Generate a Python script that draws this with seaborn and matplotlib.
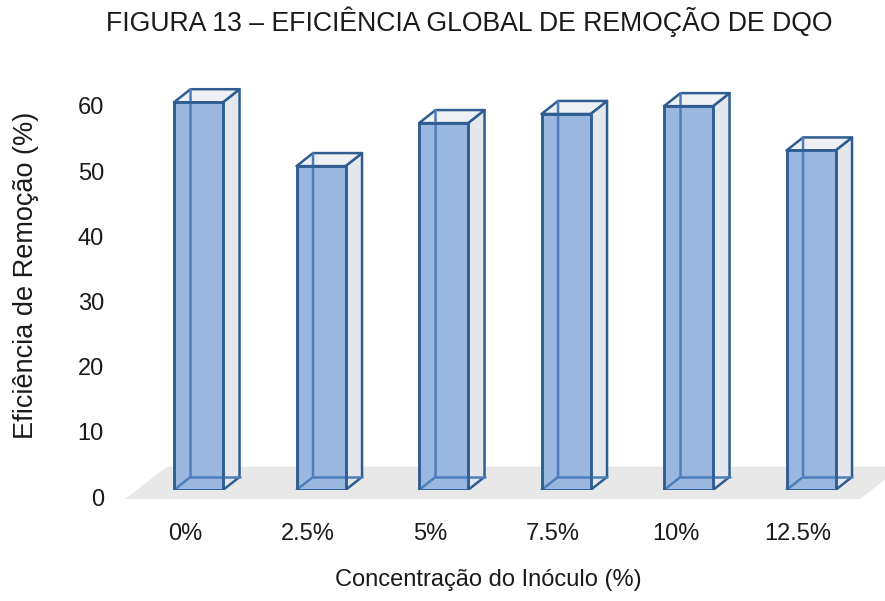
import matplotlib
matplotlib.use("Agg")
import matplotlib.pyplot as plt
import matplotlib.transforms as mtransforms
from matplotlib.patches import Polygon
import pandas as pd
import seaborn as sns

# --- dados ---
concentracoes = ["0%", "2.5%", "5%", "7.5%", "10%", "12.5%"]
eficiencia = [59.5, 49.7, 56.3, 57.7, 58.9, 52.1]
yticks = [0, 10, 20, 30, 40, 50, 60]

df = pd.DataFrame({"Concentração": concentracoes, "Eficiência": eficiencia})

sns.set_theme(style="white")
plt.rcParams["font.family"] = ["Liberation Sans", "DejaVu Sans"]

AZUL = "#9AB8DF"
BORDA = "#2F5D91"
LINHA_INT = "#4D7EBB"
LADO = "#E4E7EC"
TOPO = "#EEF0F4"
PISO = "#E8E8E8"

fig = plt.figure(figsize=(8.85, 6.01), dpi=100)
ax = fig.add_axes([137.25 / 885, 111 / 601, 735 / 885, 423.6 / 601])
ax.patch.set_alpha(0)

sns.barplot(data=df, x="Concentração", y="Eficiência", ax=ax, width=0.4,
            color=AZUL, saturation=1, edgecolor=BORDA, linewidth=1.8, zorder=3)
ax.set_xlim(-0.5, 5.5)
ax.set_ylim(0, 65)

# profundidade 3D (em unidades de dados)
dx, dy = 0.135, 2.0

# piso
piso = Polygon([(-0.6, -1.4), (5.40, -1.4), (5.74, 3.6), (-0.257, 3.6)],
               closed=True, facecolor=PISO, edgecolor="none", zorder=0, clip_on=False)

for p in list(ax.patches):
    x0 = p.get_x()
    x1 = x0 + p.get_width()
    h = p.get_height()
    lado = Polygon([(x1, 0), (x1 + dx, dy), (x1 + dx, h + dy), (x1, h)], closed=True,
                   facecolor=LADO, edgecolor=BORDA, linewidth=1.8, zorder=2, joinstyle="round")
    topo = Polygon([(x0, h), (x1, h), (x1 + dx, h + dy), (x0 + dx, h + dy)], closed=True,
                   facecolor=TOPO, edgecolor=BORDA, linewidth=1.8, zorder=2, joinstyle="round")
    ax.add_patch(lado)
    ax.add_patch(topo)
    # arestas de trás vistas através da face
    ax.plot([x0, x0 + dx, x0 + dx], [0, dy, h + dy], color=LINHA_INT, lw=1.8, zorder=3.5,
            solid_joinstyle="round")
    ax.plot([x0 + dx, x1 + dx], [dy, dy], color=LINHA_INT, lw=1.8, zorder=3.5)
    p.set_joinstyle("round")
    # redesenha o contorno frontal por cima das arestas internas
    ax.add_patch(Polygon([(x0, 0), (x1, 0), (x1, h), (x0, h)], closed=True, fill=False,
                         edgecolor=BORDA, linewidth=1.8, zorder=4, joinstyle="round"))
ax.add_patch(piso)

for s in ax.spines.values():
    s.set_visible(False)

ax.set_yticks(yticks)
ax.tick_params(axis="both", length=0, labelsize=17, colors="#1a1a1a")
ax.tick_params(axis="y", pad=24)
ax.tick_params(axis="x", pad=24)
for lab in ax.get_yticklabels():
    lab.set_transform(lab.get_transform() + mtransforms.ScaledTranslation(0, -7 / 100, fig.dpi_scale_trans))
for lab in ax.get_xticklabels():
    lab.set_transform(lab.get_transform() + mtransforms.ScaledTranslation(-13 / 100, 0, fig.dpi_scale_trans))

ax.set_xlabel("Concentração do Inóculo (%)", fontsize=17, color="#1a1a1a", va="center")
ax.xaxis.set_label_coords(0.478, -0.2125)
ax.set_ylabel("Eficiência de Remoção (%)", fontsize=19.5, color="#1a1a1a", va="center")
ax.yaxis.set_label_coords(-0.1514, 0.5076)

fig.text(469 / 885, 1 - 22 / 601, "FIGURA 13 – EFICIÊNCIA GLOBAL DE REMOÇÃO DE DQO",
         ha="center", va="center", fontsize=19.2, color="#1a1a1a")

fig.savefig("out.png", dpi=100)
